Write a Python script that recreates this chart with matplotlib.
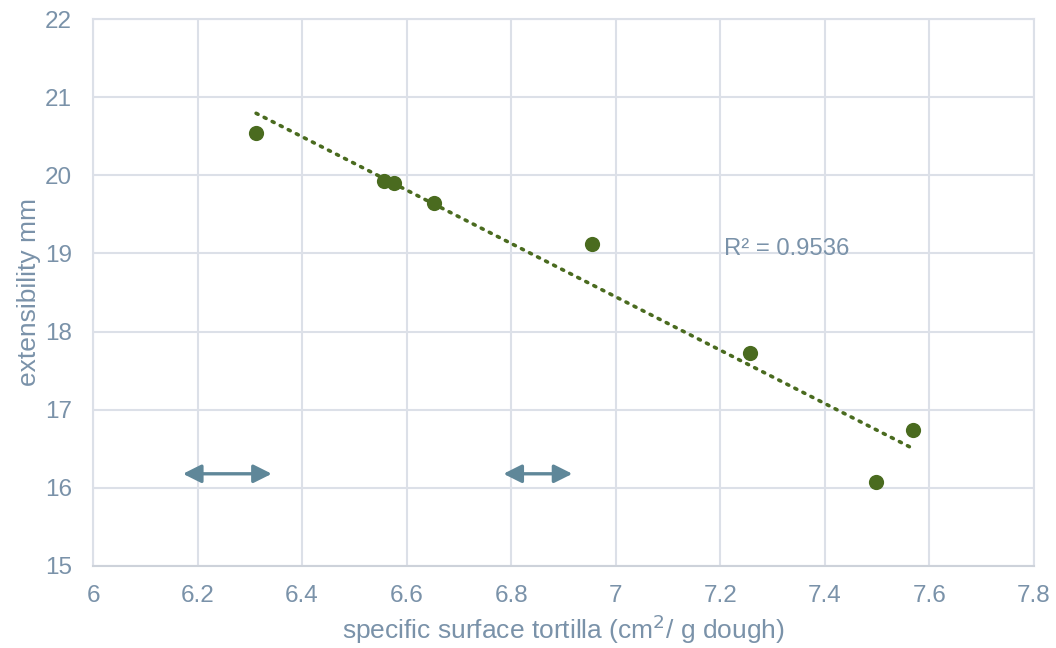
import numpy as np
import matplotlib
matplotlib.use("Agg")
import matplotlib.pyplot as plt

plt.rcParams['font.family'] = ['Liberation Sans', 'DejaVu Sans']

# Measured samples
surface = [6.312, 6.557, 6.576, 6.653, 6.955, 7.257, 7.497, 7.569]
extensibility = [20.54, 19.93, 19.90, 19.645, 19.12, 17.73, 16.08, 16.74]

# Range arrows (x start, x end, y level)
arrow_spans = [(6.172, 6.342, 16.18), (6.785, 6.917, 16.18)]

x_ticks = [6, 6.2, 6.4, 6.6, 6.8, 7, 7.2, 7.4, 7.6, 7.8]
x_tick_labels = ["6", "6.2", "6.4", "6.6", "6.8", "7", "7.2", "7.4", "7.6", "7.8"]
y_ticks = [15, 16, 17, 18, 19, 20, 21, 22]

text_color = "#7a92a9"
grid_color = "#dce0e8"
point_color = "#4a6b1f"
arrow_color = "#5f8799"

fig = plt.figure(figsize=(10.56, 6.48), dpi=100)
ax = fig.add_axes([93 / 1056, 1 - 566 / 648, (1034 - 93) / 1056, (566 - 19) / 648])

ax.set_xlim(6, 7.8)
ax.set_ylim(15, 22)
ax.set_xticks(x_ticks)
ax.set_xticklabels(x_tick_labels)
ax.set_yticks(y_ticks)
ax.grid(True, color=grid_color, linewidth=1.5)
ax.set_axisbelow(True)
for side in ["top", "right", "left"]:
    ax.spines[side].set_color(grid_color)
    ax.spines[side].set_linewidth(1.5)
ax.spines["bottom"].set_color("#cdd2da")
ax.spines["bottom"].set_linewidth(1.5)
ax.tick_params(length=0, labelsize=17.5, labelcolor=text_color)
ax.tick_params(axis="x", pad=14)
ax.tick_params(axis="y", pad=15)

# Linear trendline
xs = np.array(surface)
ys = np.array(extensibility)
slope, intercept = np.polyfit(xs, ys, 1)
tx = np.array([xs.min(), xs.max()])
ax.plot(tx, slope * tx + intercept, linestyle=(0, (0.6, 1.9)), color=point_color,
        linewidth=2.6, dash_capstyle="round", zorder=2)

ax.scatter(surface, extensibility, s=120, color=point_color, zorder=3, linewidths=0)

ax.text(7.207, 19.06, "R² = 0.9536", fontsize=17.2, color=text_color, va="center", ha="left")

for x0, x1, y in arrow_spans:
    ax.annotate("", xy=(x1, y), xytext=(x0, y),
                arrowprops=dict(arrowstyle="<|-|>,head_length=1.1,head_width=0.55",
                                color=arrow_color, linewidth=2.4, shrinkA=0, shrinkB=0))

ax.set_xlabel("specific surface tortilla (cm$^2$/ g dough)", fontsize=19, color=text_color, labelpad=4)
ax.set_ylabel("extensibility mm", fontsize=19, color=text_color, labelpad=3)

fig.savefig("out.png", dpi=100)
